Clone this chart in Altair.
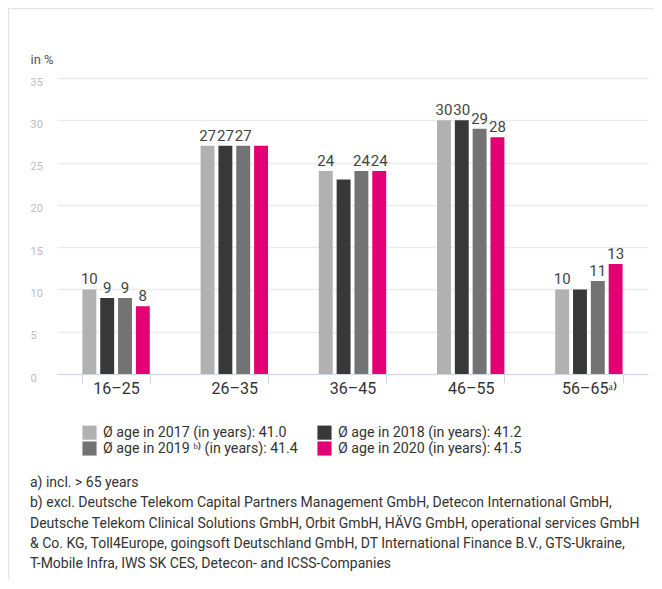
import altair as alt
import pandas as pd

age_groups = ["16–25", "26–35", "36–45", "46–55", "56–65ᵃ⁾"]
series = [
    "Ø age in 2017 (in years): 41.0",
    "Ø age in 2018 (in years): 41.2",
    "Ø age in 2019 ᵇ⁾ (in years): 41.4",
    "Ø age in 2020 (in years): 41.5",
]
colors = ["#b1b1b1", "#383838", "#737373", "#e20074"]

v2017 = [10, 27, 24, 30, 10]
v2018 = [9, 27, 23, 30, 10]
v2019 = [9, 27, 24, 29, 11]
v2020 = [8, 27, 24, 28, 13]

# which value labels are visible in the reference (others are hidden by overlap)
show2017 = [1, 1, 1, 1, 1]
show2018 = [1, 1, 0, 1, 0]
show2019 = [1, 1, 1, 1, 1]
show2020 = [1, 0, 1, 1, 1]

y_ticks = [0, 5, 10, 15, 20, 25, 30, 35]

footnotes = [
    "a) incl. > 65 years",
    "b) excl. Deutsche Telekom Capital Partners Management GmbH, Detecon International GmbH,",
    "Deutsche Telekom Clinical Solutions GmbH, Orbit GmbH, HÄVG GmbH, operational services GmbH",
    "& Co. KG, Toll4Europe, goingsoft Deutschland GmbH, DT International Finance B.V., GTS-Ukraine,",
    "T-Mobile Infra, IWS SK CES, Detecon- and ICSS-Companies",
]

rows = []
for s, vals, shows in zip(series, [v2017, v2018, v2019, v2020],
                          [show2017, show2018, show2019, show2020]):
    for g, v, sh in zip(age_groups, vals, shows):
        rows.append({"group": g, "series": s, "value": v, "show": sh})
df = pd.DataFrame(rows)

FONT = "Roboto"

W, H = 591, 296
PAD = {"left": 49, "top": 70, "right": 6, "bottom": 205}

x_enc = alt.X(
    "group:N",
    sort=age_groups,
    scale=alt.Scale(paddingInner=0.43, paddingOuter=0.215),
    axis=alt.Axis(
        title=None,
        tickBand="extent",
        domainColor="#cfd8ea",
        tickColor="#cfd8ea",
        tickSize=9,
        labelFontSize=16,
        labelColor="#333333",
        labelPadding=-3,
        labelAngle=0,
        grid=False,
    ),
)
xoff_enc = alt.XOffset(
    "series:N", sort=series, scale=alt.Scale(paddingInner=0.22, paddingOuter=0)
)
y_enc = alt.Y(
    "value:Q",
    scale=alt.Scale(domain=[0, 35], nice=False),
    axis=alt.Axis(
        values=y_ticks,
        title="in %",
        titleAngle=0,
        titleAlign="left",
        titleBaseline="middle",
        titleX=-27,
        titleY=-19,
        titleFontSize=13,
        titleFontWeight="normal",
        titleColor="#555555",
        domain=False,
        ticks=False,
        labelAlign="left",
        labelPadding=27,
        labelOffset=4,
        labelFontSize=11,
        labelColor="#bdbdbd",
        gridColor="#ececec",
        gridWidth=1.5,
    ),
)

bars = alt.Chart(df).mark_bar().encode(
    x=x_enc,
    xOffset=xoff_enc,
    y=y_enc,
    color=alt.Color(
        "series:N",
        sort=series,
        scale=alt.Scale(domain=series, range=colors),
        legend=alt.Legend(
            title=None,
            orient="none",
            direction="horizontal",
            legendX=25,
            legendY=347,
            columns=2,
            columnPadding=19,
            rowPadding=1,
            symbolType="square",
            symbolSize=200,
            symbolStrokeWidth=0,
            labelFontSize=14.2,
            labelOffset=6,
            labelLimit=0,
            labelColor="#333333",
            labelFont=FONT,
        ),
    ),
)

labels = alt.Chart(df).transform_filter(alt.datum.show == 1).mark_text(
    dy=-5, baseline="alphabetic", fontSize=15, color="#444444", font=FONT
).encode(
    x=alt.X("group:N", sort=age_groups),
    xOffset=alt.XOffset("series:N", sort=series),
    y=alt.Y("value:Q"),
    text=alt.Text("value:Q"),
)

dummy = pd.DataFrame({"a": [0]})
notes = alt.Chart(dummy).mark_text(
    align="left", baseline="top", fontSize=14, lineHeight=20.3,
    color="#333333", font=FONT
).encode(x=alt.value(-27), y=alt.value(398), text=alt.value(footnotes))

border_top = alt.Chart(dummy).mark_rule(color="#e6e6e6", strokeWidth=1.5).encode(
    x=alt.value(-49), x2=alt.value(W + PAD["right"]), y=alt.value(-69.5)
)
border_left = alt.Chart(dummy).mark_rule(color="#e6e6e6", strokeWidth=1.5).encode(
    x=alt.value(-48.5), y=alt.value(-70), y2=alt.value(H + PAD["bottom"])
)

chart = alt.layer(bars, labels, notes, border_top, border_left).resolve_scale(
    x="shared"
).properties(
    width=W,
    height=H,
    padding=PAD,
    autosize=alt.AutoSizeParams(type="none"),
).configure(font=FONT).configure_view(stroke=None)

chart.save("out.html", embed_options={"renderer": "svg", "actions": False})
